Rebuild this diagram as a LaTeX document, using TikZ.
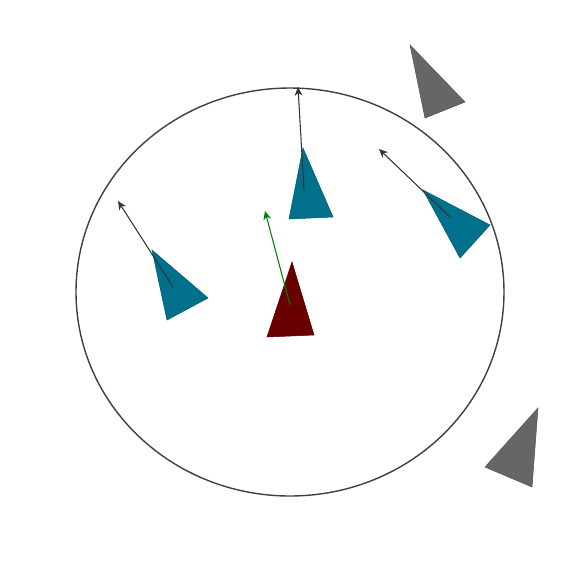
\documentclass[tikz,border=0pt]{standalone}
\usepackage{xcolor}
\usepackage{tikz}
\usetikzlibrary{arrows.meta}

\definecolor{boidteal}{RGB}{0,112,140}
\definecolor{boidred}{RGB}{104,0,0}
\definecolor{boidgray}{RGB}{102,102,102}

\begin{document}
\begin{tikzpicture}[x=0.02cm, y=-0.02cm]
  \useasboundingbox (0,0) rectangle (579,569);

  %% Neighbourhood boundary
  \draw[line width=0.8pt, black!75] (290,292) ellipse (214 and 204);

  %% Styles
  \tikzset{
    nbr/.style={fill=boidteal, draw=boidteal!80!black, line width=0.3pt},
    far/.style={fill=boidgray, draw=boidgray!80!black, line width=0.3pt},
    self/.style={fill=boidred, draw=boidred!80!black, line width=0.3pt},
    heading/.style={-{Stealth[length=5pt, width=4.5pt]}, line width=0.6pt, black!80},
    steer/.style={-{Stealth[length=5pt, width=4.5pt]}, line width=0.6pt, green!50!black}
  }

  %% Boids outside the radius
  \foreach \ax/\ay/\bx/\by/\cx/\cy in {
    410/45/465/102/425/118,
    538/408/532/487/485/467
  }{
    \filldraw[far] (\ax,\ay) -- (\bx,\by) -- (\cx,\cy) -- cycle;
  }

  %% Neighbours
  \foreach \ax/\ay/\bx/\by/\cx/\cy in {
    303/148/289/219/333/217,
    152/250/167/320/208/298,
    423/190/490/225/460/258
  }{
    \filldraw[nbr] (\ax,\ay) -- (\bx,\by) -- (\cx,\cy) -- cycle;
  }

  %% The boid itself
  \filldraw[self] (292,262) -- (267,337) -- (314,335) -- cycle;

  %% Headings
  \coordinate (top-s)   at (304,190);
  \coordinate (top-h)   at (298,87);
  \coordinate (left-s)  at (173,287);
  \coordinate (left-h)  at (118,201);
  \coordinate (right-s) at (450,217);
  \coordinate (right-h) at (379,149);
  \coordinate (self-s)  at (290,305);
  \coordinate (self-h)  at (265,211);

  \draw[heading] (top-s) -- (top-h);
  \draw[heading] (left-s) -- (left-h);
  \draw[heading] (right-s) -- (right-h);
  \draw[steer] (self-s) -- (self-h);

\end{tikzpicture}
\end{document}
